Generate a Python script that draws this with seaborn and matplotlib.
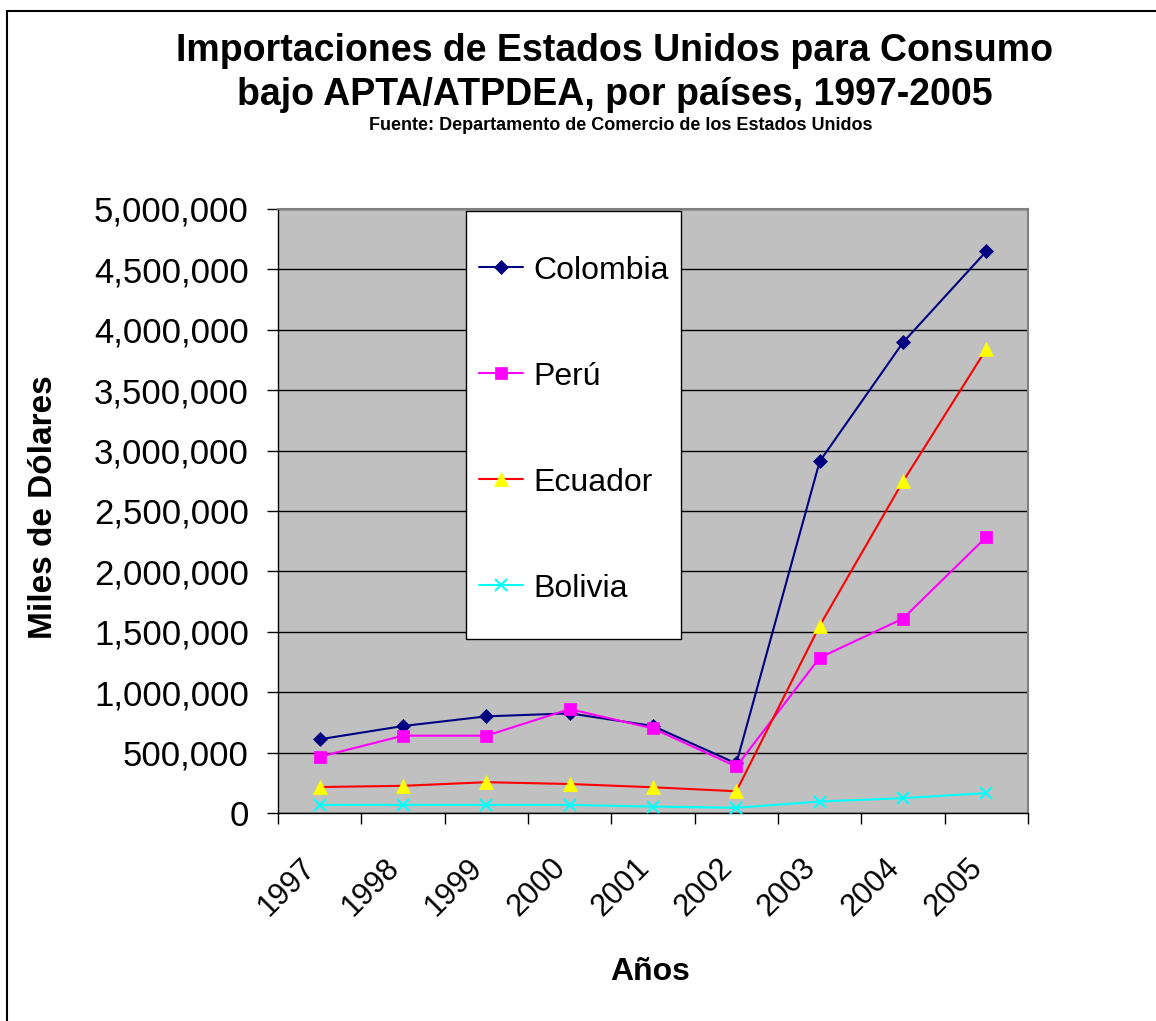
import numpy as np
import pandas as pd
from matplotlib import pyplot as plt
from matplotlib.patches import Rectangle
from matplotlib.ticker import FuncFormatter, FixedLocator
from matplotlib.transforms import ScaledTranslation
import seaborn as sns

years = ["1997", "1998", "1999", "2000", "2001", "2002", "2003", "2004", "2005"]
colombia = [610000, 720000, 800000, 825000, 720000, 410000, 2910000, 3895000, 4650000]
peru = [465000, 640000, 640000, 860000, 700000, 385000, 1285000, 1610000, 2285000]
ecuador = [215000, 225000, 255000, 240000, 213000, 180000, 1550000, 2745000, 3840000]
bolivia = [67000, 67000, 67000, 67000, 53000, 43000, 95000, 123000, 165000]

# nombre, valores, color linea, marcador, color marcador, tamano
series = [
    ("Colombia", colombia, "#000080", "D", "#000080", 7),
    ("Perú", peru, "#FF00FF", "s", "#FF00FF", 8),
    ("Ecuador", ecuador, "#FF0000", "^", "#FFFF00", 10),
    ("Bolivia", bolivia, "#00FFFF", "x", "#00FFFF", 9),
]

sns.set_style("white", rc={"text.color": "black", "axes.labelcolor": "black",
                           "xtick.color": "black", "ytick.color": "black"})
plt.rcParams['font.family'] = ['Liberation Sans', 'DejaVu Sans']

fig = plt.figure(figsize=(11.56, 10.21), dpi=100)
ax = fig.add_axes([278/1156, 1-813/1021, 750/1156, 604/1021])
ax.set_facecolor("#C0C0C0")

x = np.arange(len(years))
for name, vals, col, mk, mfc, ms in series:
    df = pd.DataFrame({"x": x, "y": vals})
    sns.lineplot(data=df, x="x", y="y", ax=ax, color=col, marker=mk,
                 markersize=ms, markerfacecolor=mfc, markeredgecolor=mfc,
                 markeredgewidth=1.5 if mk == "x" else 0.5,
                 linewidth=1.5, label=name, zorder=3)

ax.set_xlim(-0.5, len(years) - 0.5)
ax.set_ylim(0, 5000000)
ax.set_yticks(np.arange(0, 5000001, 500000))
ax.yaxis.set_major_formatter(FuncFormatter(lambda v, p: f"{int(v):,}"))
ax.grid(axis="y", color="black", linewidth=1)
ax.set_axisbelow(True)

ax.xaxis.set_major_locator(FixedLocator(np.arange(-0.5, len(years), 1.0)))
ax.xaxis.set_minor_locator(FixedLocator(x))
ax.set_xticklabels([], minor=False)
ax.set_xticklabels(years, minor=True, rotation=45, ha="right",
                   rotation_mode="anchor", fontsize=22)
ax.tick_params(axis="x", which="major", direction="out", length=8, width=1,
               color="black", bottom=True)
ax.tick_params(axis="x", which="minor", length=0, pad=28.5)
ax.tick_params(axis="y", direction="out", length=8, width=1, color="black",
               left=True, labelsize=25, pad=13)

for s in ["left", "bottom"]:
    ax.spines[s].set_color("black")
    ax.spines[s].set_linewidth(1)
for s in ["top", "right"]:
    ax.spines[s].set_color("#808080")
    ax.spines[s].set_linewidth(1.5)

ax.set_xlabel("Años", fontsize=23, fontweight="bold")
ax.set_ylabel("Miles de Dólares", fontsize=24, fontweight="bold")
ax.xaxis.set_label_coords(0.496, -0.238)
ax.yaxis.set_label_coords(-0.292, 0.507)

# caja de la leyenda
ax.add_patch(Rectangle((0.2507, 0.288), 0.2866, 0.7087, transform=ax.transAxes,
                       facecolor="white", edgecolor="black", linewidth=1,
                       zorder=4))
leg = ax.legend(loc="upper left", bbox_to_anchor=(0.268, 0.923),
                borderaxespad=0, borderpad=0, frameon=False, fontsize=23,
                handlelength=1.38, handletextpad=0.31, labelspacing=2.38)
leg.set_zorder(5)

fig.text(0.532, 1-61/1021, "Importaciones de Estados Unidos para Consumo",
         ha="center", va="baseline", fontsize=27, fontweight="bold")
fig.text(0.532, 1-105/1021, "bajo APTA/ATPDEA, por países, 1997-2005",
         ha="center", va="baseline", fontsize=27, fontweight="bold")
fig.text(0.537, 1-130/1021, "Fuente: Departamento de Comercio de los Estados Unidos",
         ha="center", va="baseline", fontsize=13, fontweight="bold")

fig.add_artist(Rectangle((7/1156, -0.05), 1.2, 1.05 - 11/1021,
                         transform=fig.transFigure, fill=False,
                         edgecolor="black", linewidth=1.5, clip_on=False))

# correr etiquetas de años a la izquierda
shift = ScaledTranslation(-0.19, 0, fig.dpi_scale_trans)
for lab in ax.get_xticklabels(minor=True):
    lab.set_transform(lab.get_transform() + shift)

fig.savefig("out.png", dpi=100)
